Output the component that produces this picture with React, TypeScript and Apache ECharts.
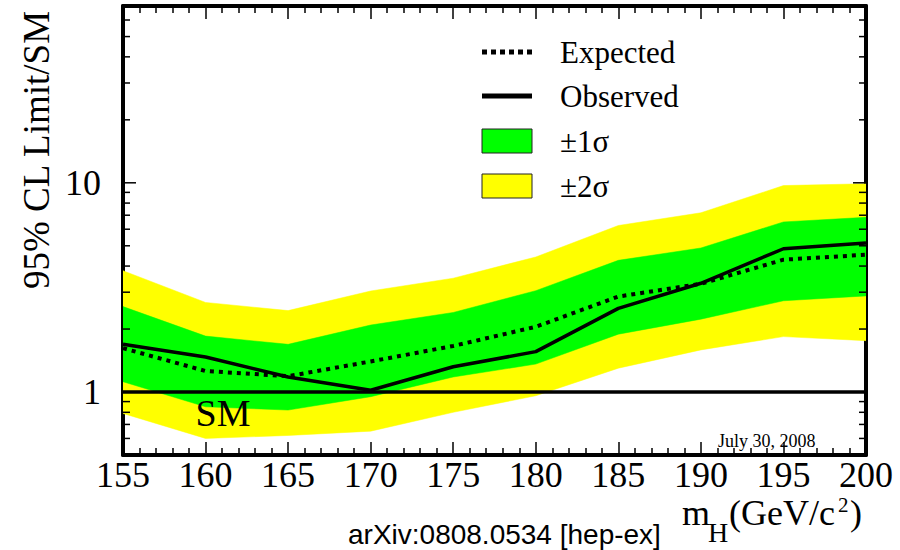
import React, { useEffect, useRef } from 'react';
import * as echarts from 'echarts';

// Higgs mass points (GeV/c^2)
const masses = [155, 160, 165, 170, 175, 180, 185, 190, 195, 200];
// 95% CL limit / SM
const yellowHi = [3.8, 2.68, 2.45, 3.04, 3.5, 4.42, 6.25, 7.19, 9.7, 9.9];
const greenHi = [2.56, 1.85, 1.69, 2.09, 2.4, 3.05, 4.26, 4.88, 6.5, 6.84];
const expected = [1.62, 1.26, 1.19, 1.4, 1.66, 2.05, 2.86, 3.29, 4.29, 4.53];
const observed = [1.69, 1.47, 1.18, 1.02, 1.32, 1.56, 2.51, 3.31, 4.84, 5.16];
const greenLo = [1.12, 0.85, 0.82, 0.95, 1.18, 1.36, 1.89, 2.23, 2.73, 2.88];
const yellowLo = [0.79, 0.6, 0.62, 0.65, 0.8, 0.96, 1.3, 1.59, 1.84, 1.76];

const smLevel = 1;
const xMin = 155;
const xMax = 200;
const xStep = 5;
const yMin = 0.5;
const yMax = 70;
const yTickValues = [0.6, 0.7, 0.8, 0.9, 1, 2, 3, 4, 5, 6, 7, 8, 9, 10, 20, 30, 40, 50, 60];
const yMajorTicks = [1, 10];
const yTickLabels = ['1', '10'];

const legendNames = ['Expected', 'Observed', '±1σ', '±2σ'];

export default function App() {
  const ref = useRef<HTMLDivElement>(null);
  useEffect(() => {
    const chart = echarts.init(ref.current!, null, { renderer: 'svg' });
    const serif = '"Liberation Serif", "Times New Roman", serif';
    const pts = (arr: number[]) => masses.map((m, i) => [m, arr[i]]);
    const tickData = yTickValues.map((v) => [xMin, v, yMajorTicks.includes(v) ? 1 : 0]);
    const yLabelFmt = (v: number) => {
      for (let i = 0; i < yMajorTicks.length; i++) {
        if (Math.abs(v - yMajorTicks[i]) < 1e-6 * yMajorTicks[i]) return yTickLabels[i];
      }
      return '';
    };

    const bandSeries = (name: string, lo: number[], hi: number[], color: string, z: number) => ({
      type: 'custom',
      name,
      z,
      silent: true,
      clip: true,
      data: masses.map((m, i) => [m, lo[i], hi[i]]),
      encode: { x: 0, y: [1, 2] },
      renderItem: (params: any, api: any) => {
        if (params.dataIndex !== 0) return null;
        const upper = masses.map((m, i) => api.coord([m, hi[i]]));
        const lower = masses.map((m, i) => api.coord([m, lo[i]])).reverse();
        return {
          type: 'polygon',
          shape: { points: upper.concat(lower) },
          style: { fill: color, stroke: color, lineWidth: 0.5 },
        };
      },
    });

    const xAxisBase = {
      type: 'value',
      min: xMin,
      max: xMax,
      interval: xStep,
      splitLine: { show: false },
      axisLine: { show: true, onZero: false, lineStyle: { color: '#000', width: 4 } },
      axisTick: { show: true, inside: true, length: 13, lineStyle: { color: '#000', width: 1.5 } },
      minorTick: { show: true, splitNumber: 5, length: 7, lineStyle: { color: '#000', width: 1.5 } },
    };
    const yAxisBase = {
      type: 'log',
      logBase: 10,
      min: yMin,
      max: yMax,
      splitLine: { show: false },
      axisTick: { show: false },
      axisLine: { show: true, lineStyle: { color: '#000', width: 4 } },
    };

    const legendX = 482;
    const legendW = 50;
    const legendTextX = 560;
    const legendRows = [52, 96, 141, 186];
    const gz = 100;

    chart.setOption({
      animation: false,
      backgroundColor: '#fff',
      grid: { left: 123, right: 34, top: 6, bottom: 95, containLabel: false, outerBoundsMode: 'none' },
      xAxis: [
        {
          ...xAxisBase,
          position: 'bottom',
          axisLabel: { fontFamily: serif, fontSize: 36, color: '#000', margin: 2 },
        },
        { ...xAxisBase, position: 'top', axisLabel: { show: false } },
      ],
      yAxis: [
        {
          ...yAxisBase,
          position: 'left',
          axisLabel: { fontFamily: serif, fontSize: 36, color: '#000', margin: 22, formatter: yLabelFmt },
        },
        { ...yAxisBase, position: 'right', axisLabel: { show: false } },
      ],
      series: [
        bandSeries(legendNames[3], yellowLo, yellowHi, '#ffff00', 1),
        bandSeries(legendNames[2], greenLo, greenHi, '#00ff00', 2),
        {
          type: 'line', name: legendNames[0], data: pts(expected), symbol: 'none', z: 3,
          lineStyle: { color: '#000', width: 4, type: [4, 5] },
        },
        {
          type: 'line', name: legendNames[1], data: pts(observed), symbol: 'none', z: 4,
          lineStyle: { color: '#000', width: 3.5, type: 'solid' },
          markLine: {
            silent: true, symbol: 'none', label: { show: false },
            lineStyle: { color: '#000', width: 3.5, type: 'solid' },
            data: [{ yAxis: smLevel }],
          },
        },
        {
          type: 'custom', name: 'yticks', data: tickData, z: 10, clip: false, silent: true,
          encode: { x: 0, y: 1 },
          renderItem: (params: any, api: any) => {
            const v = api.value(1);
            const major = api.value(2) === 1;
            const p = api.coord([xMin, v]);
            const cs = params.coordSys;
            const len = major ? 13 : 7;
            const style = { stroke: '#000', lineWidth: 1.5 };
            return {
              type: 'group',
              children: [
                { type: 'line', shape: { x1: cs.x, y1: p[1], x2: cs.x + len, y2: p[1] }, style },
                { type: 'line', shape: { x1: cs.x + cs.width - len, y1: p[1], x2: cs.x + cs.width, y2: p[1] }, style },
              ],
            };
          },
        },
      ],
      graphic: [
        // legend
        {
          type: 'line', z: gz, shape: { x1: legendX, y1: legendRows[0], x2: legendX + legendW, y2: legendRows[0] },
          style: { stroke: '#000', lineWidth: 5, lineDash: [5, 4] },
        },
        {
          type: 'line', z: gz, shape: { x1: legendX, y1: legendRows[1], x2: legendX + legendW, y2: legendRows[1] },
          style: { stroke: '#000', lineWidth: 5 },
        },
        {
          type: 'rect', z: gz, shape: { x: legendX, y: legendRows[2] - 12, width: legendW, height: 24 },
          style: { fill: '#00ff00', stroke: '#222', lineWidth: 1 },
        },
        {
          type: 'rect', z: gz, shape: { x: legendX, y: legendRows[3] - 12, width: legendW, height: 24 },
          style: { fill: '#ffff00', stroke: '#222', lineWidth: 1 },
        },
        ...legendNames.map((n, i) => ({
          type: 'text', z: gz, x: legendTextX, y: legendRows[i],
          style: { text: n, font: `31px ${serif}`, fill: '#000', verticalAlign: 'middle', align: 'left' },
        })),
        // SM label
        {
          type: 'text', z: gz, x: 223, y: 413,
          style: { text: 'SM', font: `38px ${serif}`, fill: '#000', align: 'center', verticalAlign: 'middle' },
        },
        // date
        {
          type: 'text', z: gz, x: 718, y: 441,
          style: { text: 'July 30, 2008', font: `18px ${serif}`, fill: '#000', align: 'left', verticalAlign: 'middle' },
        },
        // y-axis title
        {
          type: 'text', z: gz, x: 36, y: 150, rotation: Math.PI / 2,
          style: { text: '95% CL Limit/SM', font: `37px ${serif}`, fill: '#000', align: 'center', verticalAlign: 'middle' },
        },
        // x-axis title: m_H(GeV/c^2)
        {
          type: 'text', z: gz, x: 682, y: 513,
          style: { text: 'm', font: `36px ${serif}`, fill: '#000', align: 'left', verticalAlign: 'middle' },
        },
        {
          type: 'text', z: gz, x: 708, y: 532,
          style: { text: 'H', font: `28px ${serif}`, fill: '#000', align: 'left', verticalAlign: 'middle' },
        },
        {
          type: 'text', z: gz, x: 729, y: 513,
          style: { text: '(GeV/c', font: `36px ${serif}`, fill: '#000', align: 'left', verticalAlign: 'middle' },
        },
        {
          type: 'text', z: gz, x: 838, y: 505,
          style: { text: '2', font: `21px ${serif}`, fill: '#000', align: 'left', verticalAlign: 'middle' },
        },
        {
          type: 'text', z: gz, x: 850, y: 513,
          style: { text: ')', font: `36px ${serif}`, fill: '#000', align: 'left', verticalAlign: 'middle' },
        },
        // source
        {
          type: 'text', z: gz, x: 348, y: 534,
          style: { text: 'arXiv:0808.0534 [hep-ex]', font: '28px "Liberation Sans", Arial, sans-serif', fill: '#000', align: 'left', verticalAlign: 'middle' },
        },
      ],
    });
    return () => chart.dispose();
  }, []);
  return <div ref={ref} style={{ position: 'absolute', left: 0, top: 0, width: 900, height: 550 }} />;
}
